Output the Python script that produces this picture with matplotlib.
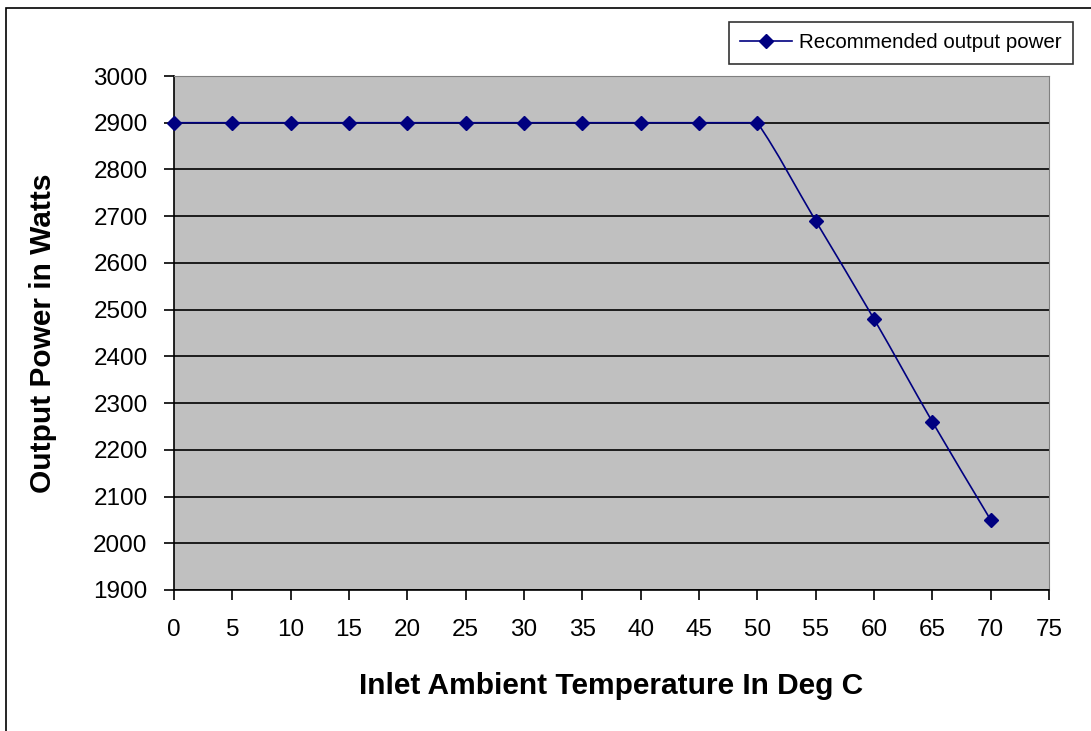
import numpy as np
import matplotlib.pyplot as plt
from matplotlib import font_manager
from matplotlib.path import Path
from matplotlib.patches import PathPatch, Rectangle
from matplotlib.lines import Line2D

# === data ===
temps = [0, 5, 10, 15, 20, 25, 30, 35, 40, 45, 50, 55, 60, 65, 70]
power = [2900, 2900, 2900, 2900, 2900, 2900, 2900, 2900, 2900, 2900, 2900, 2690, 2480, 2260, 2050]
series_name = "Recommended output power"
x_ticks = list(range(0, 80, 5))
y_ticks = list(range(1900, 3100, 100))

LINE = "#000080"
plt.rcParams['font.family'] = ['Liberation Sans', 'DejaVu Sans']

names = {f.name for f in font_manager.fontManager.ttflist}
legend_family = ['Liberation Sans Narrow', 'Liberation Sans'] if 'Liberation Sans Narrow' in names else ['Liberation Sans']
legend_size = 18 if 'Liberation Sans Narrow' in names else 14.8


# === smoothed path (cubic hermite, drawn as bezier segments) ===
def smooth_path(x, y):
    x = np.asarray(x, float)
    y = np.asarray(y, float)
    h = np.diff(x)
    d = np.diff(y) / h
    m_in = np.zeros_like(y)
    m_out = np.zeros_like(y)
    m_in[-1] = d[-1]
    m_out[0] = d[0]
    for i in range(1, len(x) - 1):
        if d[i - 1] * d[i] <= 0:
            # corner: keep each side close to its own segment
            m_in[i] = 0.85 * d[i - 1]
            m_out[i] = 0.85 * d[i]
        else:
            m_in[i] = m_out[i] = 2.0 / (1.0 / d[i - 1] + 1.0 / d[i])
    verts = [(x[0], y[0])]
    codes = [Path.MOVETO]
    for i in range(len(x) - 1):
        verts += [(x[i] + h[i] / 3, y[i] + m_out[i] * h[i] / 3),
                  (x[i + 1] - h[i] / 3, y[i + 1] - m_in[i + 1] * h[i] / 3),
                  (x[i + 1], y[i + 1])]
        codes += [Path.CURVE4] * 3
    return Path(verts, codes)


fig = plt.figure(figsize=(10.91, 7.31), dpi=100)
fig.patches.append(Rectangle((6 / 1091, -0.1), 1.2, 1 - 8 / 731 + 0.1,
                             transform=fig.transFigure, fill=False,
                             edgecolor="black", linewidth=1.2))

ax = fig.add_axes([174 / 1091, 1 - 590 / 731, (1049 - 174) / 1091, (590 - 76) / 731])
ax.set_facecolor("#C0C0C0")
ax.set_xlim(0, 75)
ax.set_ylim(1900, 3000)
ax.set_xticks(x_ticks)
ax.set_yticks(y_ticks)
ax.yaxis.grid(True, color="black", linewidth=1.2)
ax.set_axisbelow(True)

for side in ["top", "right"]:
    ax.spines[side].set_color("#808080")
for side in ["left", "bottom"]:
    ax.spines[side].set_color("black")
    ax.spines[side].set_linewidth(1.2)
ax.tick_params(direction="out", length=7, width=1.2, labelsize=17.5,
               colors="black")
ax.tick_params(axis="y", pad=12)
ax.tick_params(axis="x", pad=14)

ax.add_patch(PathPatch(smooth_path(temps, power), fill=False,
                       edgecolor=LINE, linewidth=1.2, zorder=3, clip_on=False))
ax.plot(temps, power, linestyle="none", marker="D", markersize=7,
        color=LINE, zorder=4, clip_on=False)

ax.set_xlabel("Inlet Ambient Temperature In Deg C", fontsize=21.5,
              fontweight="bold", labelpad=22)
ax.set_ylabel("Output Power in Watts", fontsize=21.5, fontweight="bold",
              labelpad=26)

handle = Line2D([], [], color=LINE, marker="D", markersize=7, linewidth=1.2)
leg = fig.legend([handle], [series_name], loc="upper right",
                 bbox_to_anchor=(1073 / 1091, 1 - 22 / 731),
                 prop={'family': legend_family, 'size': legend_size},
                 frameon=True, fancybox=False, edgecolor="black",
                 handlelength=2.5, handletextpad=0.35, borderpad=0.55,
                 borderaxespad=0)
leg.get_frame().set_linewidth(1.2)

fig.savefig("out.png", dpi=100)
